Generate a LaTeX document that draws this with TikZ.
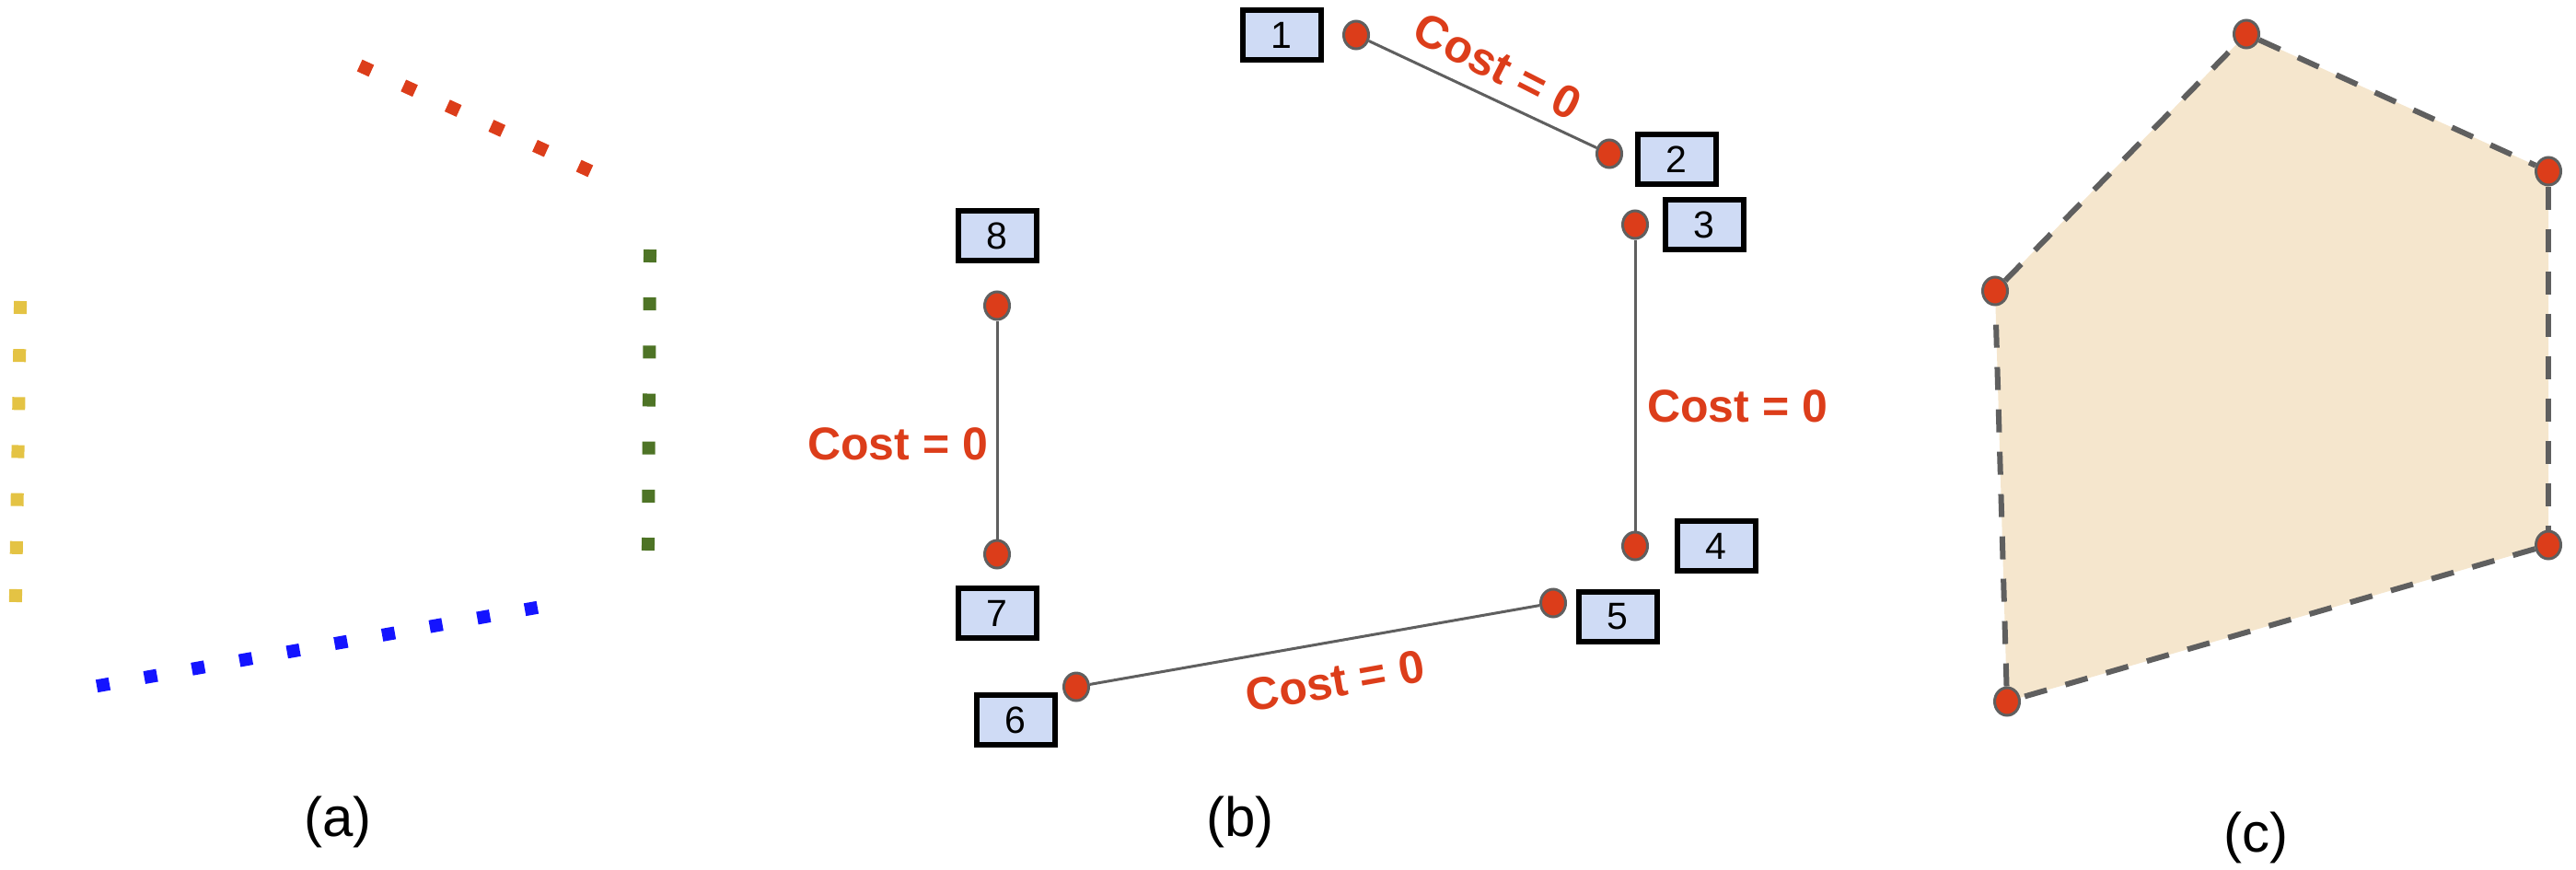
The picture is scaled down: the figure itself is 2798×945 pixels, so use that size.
\documentclass[tikz,border=0pt]{standalone}
\usepackage{fontspec}
\setmainfont{Liberation Sans}
\usetikzlibrary{shapes.geometric,backgrounds}
\definecolor{dotred}{RGB}{220,61,26}
\definecolor{edgegray}{RGB}{95,95,95}
\definecolor{boxblue}{RGB}{207,219,245}
\definecolor{hullfill}{RGB}{245,230,205}
\definecolor{segyellow}{RGB}{228,195,68}
\definecolor{seggreen}{RGB}{78,116,38}
\definecolor{segblue}{RGB}{20,20,255}
\definecolor{segred}{RGB}{220,61,26}
\tikzset{
  vertex/.style={ellipse, draw=edgegray, line width=3pt, fill=dotred, minimum width=27pt, minimum height=30pt, inner sep=0pt},
  numbox/.style={rectangle, draw=black, line width=6pt, fill=boxblue, minimum width=85pt, minimum height=54pt, inner sep=0pt, font=\fontsize{41}{41}\selectfont},
  costlabel/.style={text=dotred, font=\bfseries\fontsize{50}{50}\selectfont, inner sep=0pt},
  link/.style={draw=edgegray, line width=3pt},
  hull/.style={draw=edgegray, line width=6pt, dash pattern=on 25pt off 21pt},
  caption/.style={font=\fontsize{60}{60}\selectfont, inner sep=0pt},
  seg/.style={line width=14pt, line cap=butt, shorten <=-7pt, shorten >=-7.3pt}
}
\begin{document}
\begin{tikzpicture}[x=1pt,y=-1pt]
\useasboundingbox (0,0) rectangle (2798,945);

% ---------- panel (a) ----------
\coordinate (ra) at (397,74);  \coordinate (rb) at (635,183);
\coordinate (ya) at (22,334);  \coordinate (yb) at (17,647);
\coordinate (ga) at (706,278); \coordinate (gb) at (704,591);
\coordinate (ba) at (112,744); \coordinate (bb) at (577,661);
\draw[seg, segred, dash pattern=on 14pt off 38.35pt] (ra) -- (rb);
\draw[seg, segyellow, dash pattern=on 14pt off 38.17pt] (ya) -- (yb);
\draw[seg, seggreen, dash pattern=on 14pt off 38.17pt] (ga) -- (gb);
\draw[seg, segblue, dash pattern=on 14pt off 38.48pt] (ba) -- (bb);
\node[caption] (capa) at (367,893) {(a)};

% ---------- panel (b) ----------
\node[vertex] (d1) at (1473,38) {};
\node[vertex] (d2) at (1748,167) {};
\node[vertex] (d3) at (1776,244) {};
\node[vertex] (d4) at (1776,593) {};
\node[vertex] (d5) at (1687,655) {};
\node[vertex] (d6) at (1169,746) {};
\node[vertex] (d7) at (1083,602) {};
\node[vertex] (d8) at (1083,332) {};

\node[numbox] (b1) at (1392,38) {1};
\node[numbox] (b2) at (1821,173) {2};
\node[numbox] (b3) at (1851,244) {3};
\node[numbox] (b4) at (1864,593) {4};
\node[numbox] (b5) at (1757,670) {5};
\node[numbox] (b6) at (1103,782) {6};
\node[numbox] (b7) at (1083,666) {7};
\node[numbox] (b8) at (1083,256) {8};

\draw[link] (d1) -- (d2);
\draw[link] (d3) -- (d4);
\draw[link] (d5) -- (d6);
\draw[link] (d7) -- (d8);

\node[costlabel, rotate=-27] (c12) at (1627,72) {Cost = 0};
\node[costlabel] (c34) at (1887,441) {Cost = 0};
\node[costlabel, rotate=10] (c56) at (1450,740) {Cost = 0};
\node[costlabel] (c78) at (975,482) {Cost = 0};
\node[caption] (capb) at (1347,893) {(b)};

% ---------- panel (c) ----------
\node[vertex] (p1) at (2167,316) {};
\node[vertex] (p2) at (2440,37) {};
\node[vertex] (p3) at (2768,186) {};
\node[vertex] (p4) at (2768,592) {};
\node[vertex] (p5) at (2180,762) {};
\begin{scope}[on background layer]
  \fill[hullfill] (p1.center) -- (p2.center) -- (p3.center) -- (p4.center) -- (p5.center) -- cycle;
\end{scope}
\draw[hull] (p1) -- (p2);
\draw[hull] (p2) -- (p3);
\draw[hull] (p3) -- (p4);
\draw[hull] (p4) -- (p5);
\draw[hull] (p5) -- (p1);
\node[caption] (capc) at (2450,910) {(c)};
\end{tikzpicture}
\end{document}
